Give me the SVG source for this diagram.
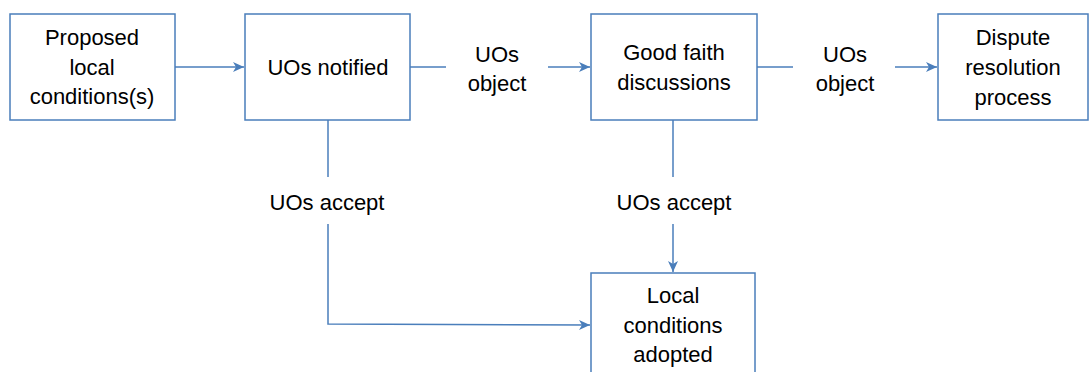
<svg xmlns="http://www.w3.org/2000/svg" width="1089" height="372" viewBox="0 0 1089 372">
<style>
.box{fill:#fff;stroke:#4a7ebb;stroke-width:1.5}
.ln{fill:none;stroke:#4a7ebb;stroke-width:1.5}
text{font-family:"Liberation Sans",Arial,sans-serif;font-size:22px;fill:#000;text-anchor:middle}
</style>
<defs>
<marker id="ah" markerWidth="12" markerHeight="12" viewBox="0 0 12 12" refX="11" refY="6" orient="auto" markerUnits="userSpaceOnUse">
<path d="M0,1 L11,6 L0,11 L3,6 Z" fill="#4a7ebb"/>
</marker>
</defs>
<rect width="1089" height="372" fill="#fff"/>
<g id="connectors">
<line class="ln" x1="175" y1="67" x2="244" y2="67" marker-end="url(#ah)"/>
<line class="ln" x1="410" y1="67" x2="446" y2="67"/>
<line class="ln" x1="548" y1="67" x2="590" y2="67" marker-end="url(#ah)"/>
<line class="ln" x1="757" y1="67" x2="793" y2="67"/>
<line class="ln" x1="895" y1="67" x2="937" y2="67" marker-end="url(#ah)"/>
<line class="ln" x1="328" y1="120" x2="328" y2="177"/>
<polyline class="ln" points="328,224 328,324 590,325" marker-end="url(#ah)"/>
<line class="ln" x1="673" y1="120" x2="673" y2="177"/>
<line class="ln" x1="673" y1="224" x2="673" y2="272" marker-end="url(#ah)"/>
<text x="497" y="62">UOs</text>
<text x="497" y="91">object</text>
<text x="845" y="62">UOs</text>
<text x="845" y="91">object</text>
<text x="327" y="210">UOs accept</text>
<text x="674" y="210">UOs accept</text>
</g>
<g id="proposed">
<rect class="box" x="10" y="14" width="165" height="106"/>
<text x="92" y="45">Proposed</text>
<text x="92" y="75">local</text>
<text x="92" y="104">conditions(s)</text>
</g>
<g id="notified">
<rect class="box" x="245" y="14" width="165" height="106"/>
<text x="328" y="75">UOs notified</text>
</g>
<g id="goodfaith">
<rect class="box" x="591" y="14" width="166" height="106"/>
<text x="674" y="60">Good faith</text>
<text x="674" y="90">discussions</text>
</g>
<g id="dispute">
<rect class="box" x="938" y="14" width="150" height="106"/>
<text x="1013" y="45">Dispute</text>
<text x="1013" y="75">resolution</text>
<text x="1013" y="105">process</text>
</g>
<g id="adopted">
<rect class="box" x="591" y="273" width="164" height="110"/>
<text x="673" y="303">Local</text>
<text x="673" y="333">conditions</text>
<text x="673" y="362">adopted</text>
</g>
</svg>
